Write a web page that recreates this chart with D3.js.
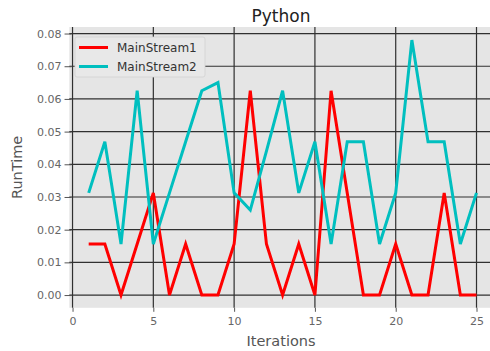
<!DOCTYPE html>
<html>
<head>
<meta charset="utf-8">
<script src="https://cdn.jsdelivr.net/npm/d3@7"></script>
<style>
  html, body { margin: 0; padding: 0; background: #fff; }
  svg { display: block; font-family: "DejaVu Sans", sans-serif; }
</style>
</head>
<body>
<svg id="chart" width="490" height="351"></svg>
<script>
// Iteration numbers and run times (seconds) for the two streams
const iterations = d3.range(1, 26);
const mainStream1 = [0.0156, 0.0156, 0, 0.0156, 0.03125, 0, 0.0156, 0, 0, 0.0156,
                     0.0625, 0.0156, 0, 0.0156, 0, 0.0625, 0.03125, 0, 0, 0.0156,
                     0, 0, 0.03125, 0, 0];
const mainStream2 = [0.03125, 0.0469, 0.0156, 0.0625, 0.0156, 0.03125, 0.0469, 0.0625, 0.065, 0.03125,
                     0.026, 0.044, 0.0625, 0.03125, 0.0469, 0.0156, 0.0469, 0.0469, 0.0156, 0.03125,
                     0.078, 0.0469, 0.0469, 0.0156, 0.03125];
const seriesNames = ["MainStream1", "MainStream2"];
const seriesColors = ["#ff0000", "#00bfbf"];
const xTicks = [0, 5, 10, 15, 20, 25];
const yTicks = [0, 0.01, 0.02, 0.03, 0.04, 0.05, 0.06, 0.07, 0.08];

const svg = d3.select("#chart");

const x = d3.scaleLinear().domain([-0.2, 26.2]).range([69.3, 495.9]);
const y = d3.scaleLinear().domain([-0.0039, 0.0820]).range([307.8, 27.0]);

const [x0, x1] = x.range();
const [yb, yt] = y.range();

// Axes background
svg.append("rect")
  .attr("x", x0).attr("y", yt)
  .attr("width", x1 - x0).attr("height", yb - yt)
  .attr("fill", "#e5e5e5");

svg.append("defs").append("clipPath").attr("id", "plot-clip")
  .append("rect").attr("x", x0).attr("y", yt).attr("width", x1 - x0).attr("height", yb - yt);

// Grid lines
const grid = svg.append("g").attr("stroke", "#303030").attr("stroke-width", 1.2);
grid.selectAll("line.v").data(xTicks).join("line")
  .attr("x1", d => x(d)).attr("x2", d => x(d))
  .attr("y1", yt).attr("y2", yb);
grid.selectAll("line.h").data(yTicks).join("line")
  .attr("y1", d => y(d)).attr("y2", d => y(d))
  .attr("x1", x0).attr("x2", x1);

// Axes
const xAxis = svg.append("g")
  .attr("transform", `translate(0,${yb})`)
  .call(d3.axisBottom(x).tickValues(xTicks).tickFormat(d3.format("d")).tickSize(4).tickPadding(5));
const yAxis = svg.append("g")
  .attr("transform", `translate(${x0},0)`)
  .call(d3.axisLeft(y).tickValues(yTicks).tickFormat(d3.format(".2f")).tickSize(4).tickPadding(6));
[xAxis, yAxis].forEach(g => {
  g.select(".domain").remove();
  g.selectAll(".tick line").attr("stroke", "#555").attr("stroke-width", 1);
  g.selectAll(".tick text").attr("fill", "#666").style("font-size", "11px")
    .style("font-family", "DejaVu Sans, sans-serif");
});
// y ticks attach at the y gridline on x = 0 side
yAxis.attr("transform", `translate(${x(0) - 1},0)`);
yAxis.selectAll(".tick line").attr("x2", -7);
yAxis.selectAll(".tick text").attr("x", -10);

// Lines
const line = d3.line().x((d, i) => x(iterations[i])).y(d => y(d));
const plot = svg.append("g").attr("clip-path", "url(#plot-clip)");
[mainStream1, mainStream2].forEach((s, k) => {
  plot.append("path")
    .datum(s)
    .attr("d", line)
    .attr("fill", "none")
    .attr("stroke", seriesColors[k])
    .attr("stroke-width", 3)
    .attr("stroke-linejoin", "miter");
});

// Legend
const lg = svg.append("g").attr("transform", "translate(75,37)");
lg.append("rect")
  .attr("width", 130).attr("height", 40).attr("rx", 2)
  .attr("fill", "#e8e8e8").attr("stroke", "#d2d2d2").attr("stroke-width", 0.8);
seriesNames.forEach((name, k) => {
  const yy = 10.5 + k * 19;
  lg.append("line")
    .attr("x1", 4).attr("x2", 33).attr("y1", yy).attr("y2", yy)
    .attr("stroke", seriesColors[k]).attr("stroke-width", 3);
  lg.append("text")
    .attr("x", 42).attr("y", yy).attr("dy", "0.35em")
    .attr("fill", "#333").style("font-size", "12px")
    .text(name);
});

// Title and axis labels
svg.append("text")
  .attr("x", 281).attr("y", 22)
  .attr("text-anchor", "middle").attr("fill", "#222")
  .style("font-size", "17px").text("Python");
svg.append("text")
  .attr("x", 281).attr("y", 346)
  .attr("text-anchor", "middle").attr("fill", "#555")
  .style("font-size", "14.5px").text("Iterations");
svg.append("text")
  .attr("transform", `translate(22,${(yt + yb) / 2}) rotate(-90)`)
  .attr("text-anchor", "middle").attr("fill", "#555")
  .style("font-size", "14.5px").text("RunTime");
</script>
</body>
</html>
